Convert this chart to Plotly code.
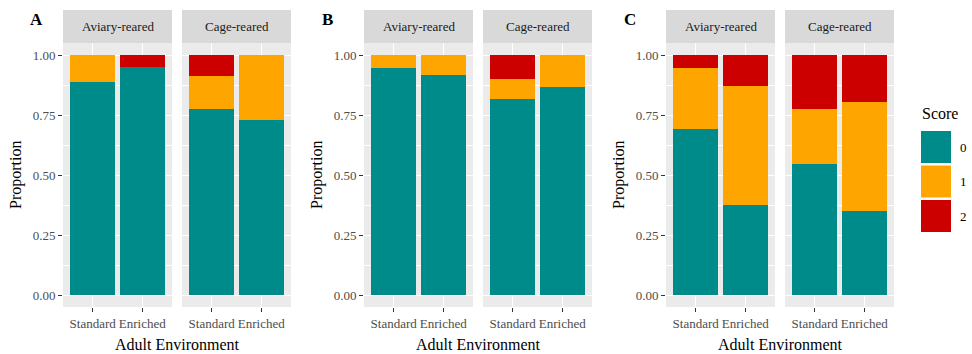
import plotly.graph_objects as go

# ---------------- data ----------------
panels = ["A", "B", "C"]
facets = ["Aviary-reared", "Cage-reared"]
environments = ["Standard", "Enriched"]
scores = ["0", "1", "2"]
score_colors = ["#008B8B", "#FFA500", "#CD0000"]

# order within each list: Aviary-Standard, Aviary-Enriched, Cage-Standard, Cage-Enriched
A_score0 = [0.886, 0.951, 0.773, 0.730]
A_score1 = [0.114, 0.000, 0.141, 0.270]
A_score2 = [0.000, 0.049, 0.086, 0.000]

B_score0 = [0.947, 0.918, 0.818, 0.868]
B_score1 = [0.053, 0.082, 0.083, 0.132]
B_score2 = [0.000, 0.000, 0.099, 0.000]

C_score0 = [0.691, 0.375, 0.546, 0.349]
C_score1 = [0.256, 0.497, 0.227, 0.457]
C_score2 = [0.053, 0.128, 0.227, 0.194]

panel_data = {
    "A": [A_score0, A_score1, A_score2],
    "B": [B_score0, B_score1, B_score2],
    "C": [C_score0, C_score1, C_score2],
}

y_ticks = [0, 0.25, 0.5, 0.75, 1.0]
y_ticktext = ["0.00", "0.25", "0.50", "0.75", "1.00"]

# ---------------- layout geometry (pixels) ----------------
W, H = 972, 354
FONT = '"Liberation Serif", "Times New Roman", Times, "DejaVu Serif", serif'
facet_x_px = {
    "A": [(63, 172), (182, 291)],
    "B": [(364, 473), (483, 592)],
    "C": [(666, 775), (785, 894)],
}
plot_top, plot_bot = 43, 307
strip_top = 10


def px(x):
    return x / W


def py(y):
    return 1 - y / H


fig = go.Figure()
layout_axes = {}
shapes = []
annotations = []

idx = 0
for p in panels:
    data = panel_data[p]
    for fi, facet in enumerate(facets):
        idx += 1
        xa = "x" if idx == 1 else f"x{idx}"
        ya = "y" if idx == 1 else f"y{idx}"
        for si, s in enumerate(scores):
            vals = data[si][fi * 2: fi * 2 + 2]
            fig.add_trace(go.Bar(
                x=environments, y=vals, width=0.9,
                marker=dict(color=score_colors[si], line=dict(width=0)),
                name=s, showlegend=False, xaxis=xa, yaxis=ya,
                hoverinfo="x+y+name",
            ))
        x0, x1 = facet_x_px[p][fi]
        first = fi == 0
        layout_axes[f"xaxis{'' if idx == 1 else idx}"] = dict(
            domain=[px(x0), px(x1)], anchor=ya,
            type="category", categoryorder="array", categoryarray=environments,
            range=[-0.6, 1.6], showgrid=True, gridcolor="white", gridwidth=1.4,
            ticks="outside", ticklen=4, tickwidth=1.1, tickcolor="#333333",
            tickfont=dict(family=FONT, size=13, color="#4D4D4D"),
            showline=False, zeroline=False, fixedrange=True,
        )
        layout_axes[f"yaxis{'' if idx == 1 else idx}"] = dict(
            domain=[py(plot_bot), py(plot_top)], anchor=xa,
            range=[-0.05, 1.05], tickmode="array", tickvals=y_ticks,
            ticktext=y_ticktext, showticklabels=first,
            ticks="outside" if first else "", ticklen=4, tickwidth=1.1,
            tickcolor="#333333",
            tickfont=dict(family=FONT, size=13, color="#4D4D4D"),
            showgrid=True, gridcolor="white", gridwidth=1.4,
            minor=dict(tickvals=[0.125, 0.375, 0.625, 0.875], showgrid=True,
                       gridcolor="white", gridwidth=0.7),
            zeroline=False, showline=False, fixedrange=True,
        )
        # strip
        shapes.append(dict(type="rect", xref="paper", yref="paper",
                           x0=px(x0), x1=px(x1), y0=py(plot_top), y1=py(strip_top),
                           fillcolor="#D9D9D9", line=dict(width=0), layer="below"))
        annotations.append(dict(text=facet, xref="paper", yref="paper",
                                x=px((x0 + x1) / 2), y=py((strip_top + plot_top) / 2),
                                xanchor="center", yanchor="middle", showarrow=False,
                                font=dict(family=FONT, size=13, color="#1A1A1A")))
    # panel tag
    tag_x = {"A": 28, "B": 320, "C": 622}[p]
    annotations.append(dict(text=f"<b>{p}</b>", xref="paper", yref="paper",
                            x=px(tag_x), y=py(19), xanchor="left", yanchor="middle",
                            showarrow=False, font=dict(family=FONT, size=17, color="black")))
    # axis titles
    fx0 = facet_x_px[p][0][0]
    fx1 = facet_x_px[p][1][1]
    annotations.append(dict(text="Adult Environment", xref="paper", yref="paper",
                            x=px((fx0 + fx1) / 2), y=py(344), xanchor="center",
                            yanchor="middle", showarrow=False,
                            font=dict(family=FONT, size=16, color="black")))
    annotations.append(dict(text="Proportion", xref="paper", yref="paper",
                            x=px(fx0 - 47), y=py((plot_top + plot_bot) / 2),
                            xanchor="center", yanchor="middle", textangle=-90,
                            showarrow=False, font=dict(family=FONT, size=16, color="black")))

# legend (drawn manually, ggplot style)
annotations.append(dict(text="Score", xref="paper", yref="paper", x=px(920), y=py(113),
                        xanchor="left", yanchor="middle", showarrow=False,
                        font=dict(family=FONT, size=16, color="black")))
key_top = 131
for si, s in enumerate(scores):
    y0 = key_top + si * 34.5
    shapes.append(dict(type="rect", xref="paper", yref="paper",
                       x0=px(921), x1=px(951), y0=py(y0 + 32), y1=py(y0),
                       fillcolor=score_colors[si], line=dict(width=0)))
    annotations.append(dict(text=s, xref="paper", yref="paper", x=px(958),
                            y=py(y0 + 16), xanchor="left", yanchor="middle",
                            showarrow=False,
                            font=dict(family=FONT, size=13, color="black")))

fig.update_layout(
    width=W, height=H, margin=dict(l=0, r=0, t=0, b=0),
    barmode="stack", bargap=0, plot_bgcolor="#EBEBEB", paper_bgcolor="white",
    showlegend=False, shapes=shapes, annotations=annotations,
    font=dict(family=FONT),
    **layout_axes,
)

fig.write_html("out.html")
